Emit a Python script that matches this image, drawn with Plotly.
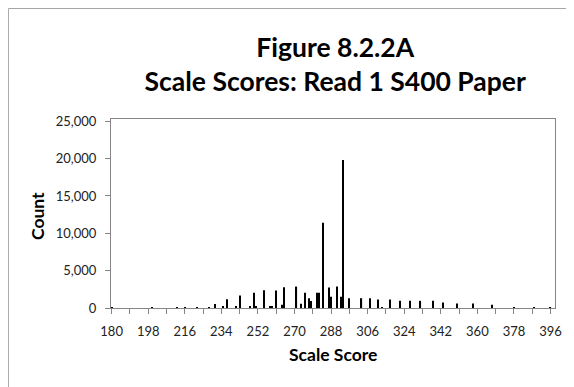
import plotly.graph_objects as go

# scale score categories with non-zero counts
scores = [180, 200, 212, 216, 222, 228, 231, 235, 237, 241,
          243, 248, 250, 251, 255, 258, 259, 261, 264, 265,
          271, 273, 275, 277, 278, 281, 282, 284, 287, 288,
          291, 293, 294, 297, 303, 307, 311, 313, 317, 322,
          327, 332, 338, 343, 350, 358, 367, 378, 388, 396]
counts = [60, 80, 80, 100, 100, 120, 530, 150, 1160, 150,
          1670, 200, 2030, 200, 2370, 200, 250, 2340, 430, 2770,
          2870, 560, 2030, 1310, 940, 2030, 2030, 11400, 2740, 1500,
          2870, 1500, 19800, 1310, 1310, 1310, 1140, 100, 1140, 960,
          960, 960, 960, 740, 600, 600, 430, 120, 120, 100]

x_ticks = list(range(180, 397, 18))
y_ticks = [0, 5000, 10000, 15000, 20000, 25000]

axis_grey = "#868686"
font = "Lato, 'Liberation Sans', sans-serif"

# page body adds an 8px offset, so margins are set relative to that
ml, mt, pw, ph = 103, 111, 443.7, 189

fig = go.Figure(go.Bar(x=scores, y=counts, width=0.55, marker_color="black",
                       marker_line_width=0))

fig.update_layout(
    width=574, height=387,
    margin=dict(l=ml, r=574 - ml - pw, t=mt, b=387 - mt - ph, autoexpand=False),
    paper_bgcolor="white", plot_bgcolor="white",
    showlegend=False,
    font=dict(family=font, color="#222", size=13),
    title=dict(text="<b>Figure 8.2.2A<br>Scale Scores: Read 1 S400 Paper</b>",
               x=0.505, xanchor="center", xref="paper",
               y=1 - 49 / 387, yanchor="top", yref="container",
               font=dict(size=26.5, color="black")),
)
fig.update_xaxes(
    range=[179.7, 398.2], tickvals=x_ticks, ticks="outside", ticklen=5,
    tickcolor=axis_grey, showline=True, linecolor=axis_grey, mirror=True,
    showgrid=False, zeroline=False, automargin=False, ticklabelstandoff=6,
    minor=dict(ticks="outside", tick0=180, dtick=9, ticklen=5, tickcolor=axis_grey),
)
fig.update_yaxes(
    range=[0, 25300], tickvals=y_ticks, tickformat=",d", ticks="outside",
    ticklen=5, tickcolor=axis_grey, showline=True, linecolor=axis_grey,
    mirror=True, showgrid=False, zeroline=False, ticklabelstandoff=6,
    automargin=False,
)

fig.add_annotation(text="<b>Scale Score</b>", xref="paper", yref="paper",
                   x=0.5, y=(ph - 346 + mt) / ph, xanchor="center",
                   yanchor="middle", showarrow=False,
                   font=dict(size=17.5, color="black"))
fig.add_annotation(text="<b>Count</b>", xref="paper", yref="paper",
                   x=(29 - ml) / pw, y=(ph - 208 + mt) / ph, textangle=-90,
                   xanchor="center", yanchor="middle",
                   showarrow=False, font=dict(size=17.5, color="black"))

# outer chart border (extends past the window on the right and bottom)
fig.add_shape(type="rect", xref="paper", yref="paper",
              x0=(0.5 - ml) / pw, x1=1.3, y0=-0.8, y1=(ph + mt - 0.5) / ph,
              line=dict(color="#a6a6a6", width=1), layer="below")

fig.write_html("out.html")
